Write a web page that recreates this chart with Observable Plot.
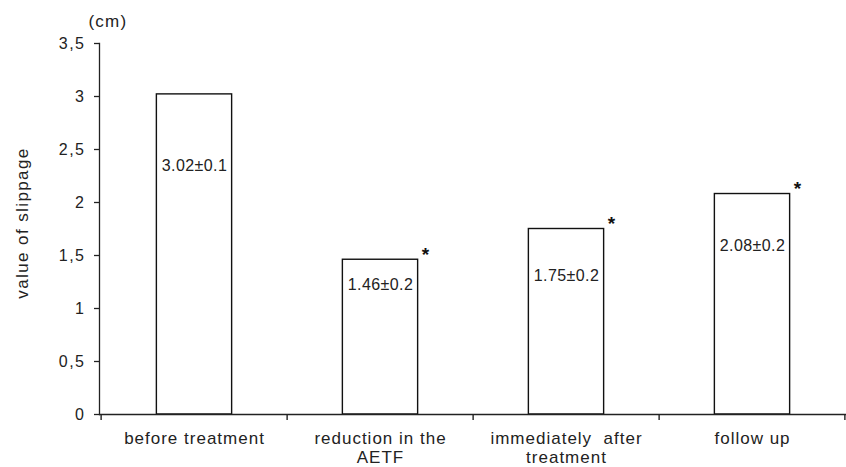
<!DOCTYPE html>
<html>
<head>
<meta charset="utf-8">
<script src="https://cdn.jsdelivr.net/npm/d3@7"></script>
<script src="https://cdn.jsdelivr.net/npm/@observablehq/plot@0.6"></script>
<style>
  body { margin: 0; background: #fff; }
  svg { font-family: "Liberation Sans", Arial, sans-serif; }
  g[aria-label="y-axis tick label"] text { letter-spacing: 1.5px; }
  g[aria-label="x-axis tick label"] text { letter-spacing: 1px; }
  text[aria-label="value label"] { letter-spacing: 0.4px; }
  text[aria-label="unit"] { letter-spacing: 1.2px; }
  text[aria-label="y title"] { letter-spacing: 1.4px; }
</style>
</head>
<body>
<div id="chart"></div>
<script>
const categories = ["before treatment", "reduction in the\nAETF", "immediately  after\ntreatment", "follow up"];
const values = [3.02, 1.46, 1.75, 2.08];
const valueLabels = ["3.02\u00b10.1", "1.46\u00b10.2", "1.75\u00b10.2", "2.08\u00b10.2"];
const labelAt = [2.35, 1.22, 1.31, 1.59];
const significant = [false, true, true, true];
const yTicks = [0, 0.5, 1, 1.5, 2, 2.5, 3, 3.5];
const yTitle = "value of slippage";
const unit = "(cm)";

const data = categories.map((c, i) => ({c, v: values[i], lab: valueLabels[i], ly: labelAt[i], sig: significant[i]}));

const W = 846, H = 467, mL = 99, mR = 0, mT = 43, mB = 53;
const bw = (W - mL - mR) / categories.length;
const barW = 76;
const inset = (bw - barW) / 2;

const chart = Plot.plot({
  width: W, height: H,
  marginLeft: mL, marginRight: mR, marginTop: mT, marginBottom: mB,
  style: {fontSize: "16px", color: "#222", background: "#fff"},
  x: {domain: categories, padding: 0, label: null},
  y: {domain: [0, 3.5], label: null},
  marks: [
    Plot.frame({anchor: "left", stroke: "#222", strokeWidth: 1.3}),
    Plot.axisY({ticks: yTicks, tickSize: 5, tickPadding: 9, tickFormat: d => String(d).replace(".", ","), fontSize: 16, stroke: "#222", strokeWidth: 1.3}),
    Plot.axisX({tickSize: 0, tickPadding: 16, fontSize: 17, lineHeight: 1.12}),
    Plot.barY(data, {x: "c", y: "v", fill: "white", stroke: "#111", strokeWidth: 1.4, insetLeft: inset, insetRight: inset}),
    Plot.ruleY([0], {stroke: "#222", strokeWidth: 1.4}),
    Plot.ruleX(categories, {x: d => d, y1: 0, y2: 0, insetBottom: -6, dx: -bw / 2, stroke: "#222", strokeWidth: 1.4}),
    Plot.ruleX(categories.slice(-1), {x: d => d, y1: 0, y2: 0, insetBottom: -6, dx: bw / 2 - 1, stroke: "#222", strokeWidth: 1.4}),
    Plot.text(data, {x: "c", y: "ly", text: "lab", fontSize: 16, fill: "#222", ariaLabel: () => "value label"}),
    Plot.text(data.filter(d => d.sig), {x: "c", y: "v", text: () => "*", fontSize: 19, fontWeight: "bold", fill: "#111", dx: barW / 2 + 7, dy: -5}),
    Plot.text([unit], {frameAnchor: "top-left", text: d => d, fontSize: 17, fill: "#222", dx: -11, dy: -29, textAnchor: "start", ariaLabel: () => "unit"}),
    Plot.text([yTitle], {frameAnchor: "left", textAnchor: "middle", text: d => d, fontSize: 17, fill: "#222", rotate: -90, dx: -77, dy: -6, ariaLabel: () => "y title"})
  ]
});
document.getElementById("chart").appendChild(chart);
</script>
</body>
</html>
